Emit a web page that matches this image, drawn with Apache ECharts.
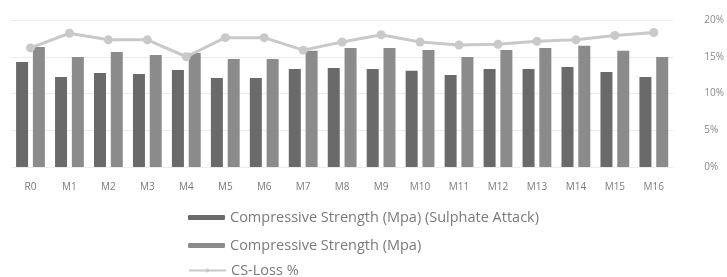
<!DOCTYPE html>
<html>
<head>
<meta charset="utf-8">
<script src="https://cdn.jsdelivr.net/npm/echarts@6/dist/echarts.min.js"></script>
<style>
  html, body { margin: 0; padding: 0; background: #fff; }
  #chart { width: 727px; height: 277px; }
</style>
</head>
<body>
<div id="chart"></div>
<script>
// mixes
var categories = ['R0', 'M1', 'M2', 'M3', 'M4', 'M5', 'M6', 'M7', 'M8', 'M9', 'M10', 'M11', 'M12', 'M13', 'M14', 'M15', 'M16'];
// compressive strength after sulphate attack (Mpa)
var csSulphate = [35.7, 30.6, 32.0, 31.6, 33.0, 30.3, 30.3, 33.3, 33.7, 33.3, 32.7, 31.3, 33.3, 33.3, 34.0, 32.3, 30.6];
// compressive strength (Mpa)
var csNormal = [40.8, 37.4, 39.1, 38.1, 38.8, 36.7, 36.7, 39.5, 40.5, 40.5, 39.8, 37.4, 39.8, 40.5, 41.2, 39.5, 37.4];
// loss in %
var csLoss = [16.2, 18.2, 17.3, 17.3, 15.0, 17.6, 17.6, 15.9, 17.0, 18.0, 17.0, 16.6, 16.7, 17.1, 17.3, 17.9, 18.3];

var names = ['Compressive Strength (Mpa) (Sulphate Attack)', 'Compressive Strength (Mpa)', 'CS-Loss %'];
var legendTops = [205, 233, 258];

var chart = echarts.init(document.getElementById('chart'));
var option = {
  animation: false,
  textStyle: { fontFamily: 'Open Sans, sans-serif' },
  grid: { left: 11, right: 43, top: 20, bottom: 110 },
  legend: names.map(function (n, i) {
    return {
      left: 183,
      top: legendTops[i],
      itemWidth: 37,
      itemHeight: 5,
      textStyle: { color: '#7a7a7a', fontSize: 14.5 },
      data: [n]
    };
  }),
  xAxis: {
    type: 'category',
    data: categories,
    axisLine: { show: false },
    axisTick: { show: false },
    axisLabel: { color: '#7a7a7a', fontSize: 10, margin: 15 }
  },
  yAxis: [{
    type: 'value',
    min: 0,
    max: 50,
    show: false
  }, {
    type: 'value',
    position: 'right',
    min: 0,
    max: 20,
    interval: 5,
    axisLine: { show: false },
    axisTick: { show: false },
    splitLine: { lineStyle: { color: '#ececec' } },
    axisLabel: { color: '#8a8a8a', fontSize: 10, margin: 31, formatter: '{value}%' }
  }],
  series: [{
    name: names[0],
    type: 'bar',
    yAxisIndex: 0,
    barWidth: 12,
    barGap: '40%',
    itemStyle: { color: '#6a6a6a' },
    data: csSulphate
  }, {
    name: names[1],
    type: 'bar',
    yAxisIndex: 0,
    barWidth: 12,
    itemStyle: { color: '#8b8b8b' },
    data: csNormal
  }, {
    name: names[2],
    type: 'line',
    yAxisIndex: 1,
    symbol: 'circle',
    symbolSize: 9,
    lineStyle: { color: '#c9c9c9', width: 3 },
    itemStyle: { color: '#c9c9c9' },
    data: csLoss
  }]
};
chart.setOption(option);
</script>
</body>
</html>
